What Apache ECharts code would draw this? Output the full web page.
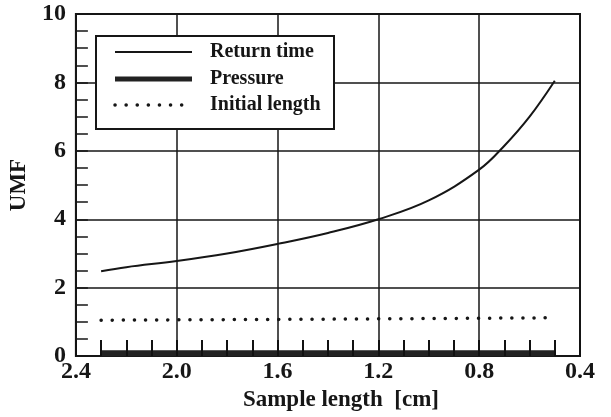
<!DOCTYPE html>
<html>
<head>
<meta charset="utf-8">
<script src="https://cdn.jsdelivr.net/npm/echarts@6/dist/echarts.min.js"></script>
<style>
html,body{margin:0;padding:0;background:#fff;}
#chart{width:611px;height:417px;}
</style>
</head>
<body>
<div id="chart"></div>
<script>
// ---- data ----
const xTickLabels = ['2.4', '2.0', '1.6', '1.2', '0.8', '0.4'];
const yTickLabels = ['0', '2', '4', '6', '8', '10'];

const returnTimeX = [2.3, 2.2, 2.0, 1.8, 1.6, 1.4, 1.2, 1.0, 0.8, 0.7, 0.6, 0.5];
const returnTimeY = [2.48, 2.6, 2.78, 3.0, 3.28, 3.6, 4.0, 4.55, 5.45, 6.15, 7.0, 8.05];

const pressureX = [2.3, 1.4, 0.5];
const pressureY = [0.08, 0.08, 0.08];

const initialLengthX = [2.3, 1.4, 0.5];
const initialLengthY = [1.05, 1.08, 1.12];

const seriesNames = ['Return time', 'Pressure', 'Initial length'];
const xAxisName = 'Sample length  [cm]';
const yAxisName = 'UMF';

function zip(xs, ys) { return xs.map((x, i) => [x, ys[i]]); }

const FONT = '"Liberation Serif", "DejaVu Serif", serif';
const INK = '#161616';

const styles = [
  {color: INK, width: 2},
  {color: '#222', width: 6},
  {color: INK, width: 3.5, type: [0.1, 11], cap: 'round'}
];

// legend drawn as a boxed key
const legendBox = {x: 95, y: 35, w: 238, h: 93};
const legendRows = [52, 79, 105];
const legendGraphic = [{
  type: 'rect', left: legendBox.x, top: legendBox.y, z: 100,
  shape: {width: legendBox.w, height: legendBox.h},
  style: {fill: '#fff', stroke: INK, lineWidth: 2}
}];
seriesNames.forEach((name, i) => {
  const s = styles[i];
  legendGraphic.push({
    type: 'line', z: 101,
    shape: {x1: 115, y1: legendRows[i], x2: 192, y2: legendRows[i]},
    style: {stroke: s.color, lineWidth: i === 1 ? 5 : s.width, lineDash: s.type && typeof s.type !== 'string' ? s.type : null, lineCap: s.cap || 'butt'}
  });
  legendGraphic.push({
    type: 'text', z: 101, x: 210, y: legendRows[i],
    style: {text: name, fill: INK, font: 'bold 20px ' + FONT, textVerticalAlign: 'middle', verticalAlign: 'middle'}
  });
});

const chart = echarts.init(document.getElementById('chart'), null, {renderer: 'canvas'});
chart.setOption({
  backgroundColor: '#ffffff',
  animation: false,
  grid: {
    left: 67, right: 31, top: 14, bottom: 56,
    show: true, borderColor: INK, borderWidth: 2, backgroundColor: 'transparent'
  },
  graphic: legendGraphic,
  xAxis: [{
    type: 'value', inverse: true,
    min: 0.4, max: 2.4, interval: 0.4,
    axisLine: {show: true, lineStyle: {color: INK, width: 2}},
    axisTick: {show: false},
    splitLine: {show: true, lineStyle: {color: INK, width: 1.5}},
    axisLabel: {
      margin: 4, fontFamily: FONT, fontWeight: 'bold', fontSize: 24, color: INK,
      formatter: v => xTickLabels.find(t => Math.abs(parseFloat(t) - v) < 1e-6) || ''
    },
    name: xAxisName, nameLocation: 'middle', nameGap: 31,
    nameTextStyle: {fontFamily: FONT, fontWeight: 'bold', fontSize: 23, color: INK, padding: [0, 0, 0, 26]}
  }, {
    // fine inward ticks every 0.1 along the bottom
    type: 'value', inverse: true, position: 'bottom',
    min: 0.4, max: 2.4, interval: 0.1,
    axisLine: {show: false},
    axisTick: {show: true, inside: true, length: 16, lineStyle: {color: '#111', width: 2}},
    axisLabel: {show: false},
    splitLine: {show: false},
    z: 10
  }],
  yAxis: {
    type: 'value', min: 0, max: 10, interval: 2,
    axisLine: {show: true, lineStyle: {color: INK, width: 2}},
    axisTick: {show: true, inside: true, length: 12, lineStyle: {color: INK, width: 1.5}},
    minorTick: {show: true, splitNumber: 4, length: 12, lineStyle: {color: INK, width: 1.5}},
    splitLine: {show: true, lineStyle: {color: INK, width: 1.5}},
    axisLabel: {
      margin: 10, fontFamily: FONT, fontWeight: 'bold', fontSize: 24, color: INK,
      formatter: v => yTickLabels.find(t => Math.abs(parseFloat(t) - v) < 1e-6) || ''
    },
    name: yAxisName, nameLocation: 'middle', nameGap: 30,
    nameTextStyle: {fontFamily: FONT, fontWeight: 'bold', fontSize: 23, color: INK}
  },
  series: seriesNames.map((name, i) => ({
    name: name, type: 'line', symbol: 'none', smooth: i === 0 ? 0.4 : false,
    xAxisIndex: 0,
    data: [zip(returnTimeX, returnTimeY), zip(pressureX, pressureY), zip(initialLengthX, initialLengthY)][i],
    lineStyle: styles[i], itemStyle: {color: styles[i].color}, z: i === 1 ? 1 : 5
  }))
});
</script>
</body>
</html>
